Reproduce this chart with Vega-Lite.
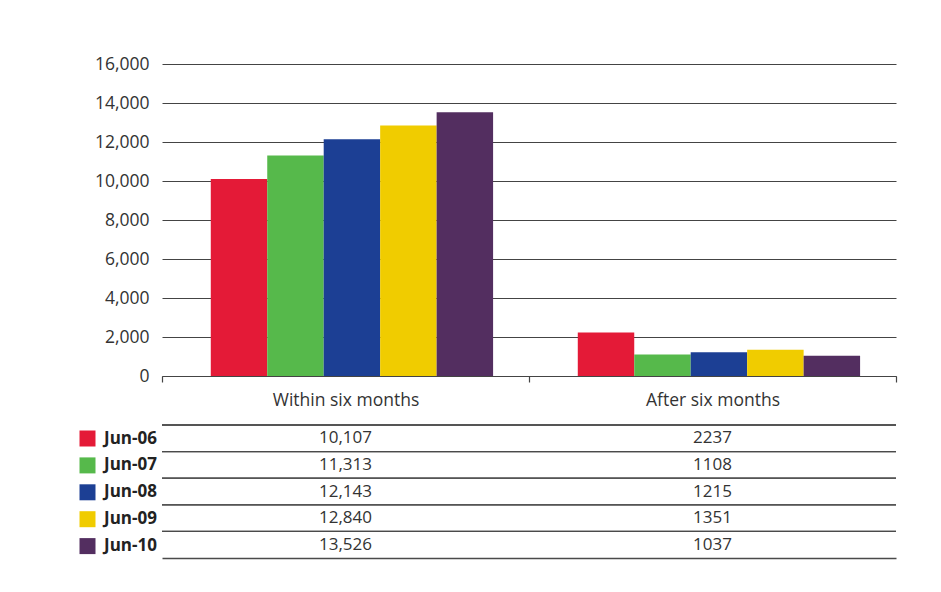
{
  "$schema": "https://vega.github.io/schema/vega-lite/v6.json",
  "padding": {"left": 79, "top": 55, "right": 10, "bottom": 10},
  "background": "white",
  "spacing": 15,
  "config": {
    "view": {"stroke": null},
    "font": "Open Sans",
    "axis": {"labelFont": "Open Sans", "labelColor": "#333333", "labelFontSize": 17.5}
  },
  "data": {
    "values": [
      {"group": "Within six months", "series": "Jun-06", "value": 10107, "label": "10,107"},
      {"group": "Within six months", "series": "Jun-07", "value": 11313, "label": "11,313"},
      {"group": "Within six months", "series": "Jun-08", "value": 12143, "label": "12,143"},
      {"group": "Within six months", "series": "Jun-09", "value": 12840, "label": "12,840"},
      {"group": "Within six months", "series": "Jun-10", "value": 13526, "label": "13,526"},
      {"group": "After six months", "series": "Jun-06", "value": 2237, "label": "2237"},
      {"group": "After six months", "series": "Jun-07", "value": 1108, "label": "1108"},
      {"group": "After six months", "series": "Jun-08", "value": 1215, "label": "1215"},
      {"group": "After six months", "series": "Jun-09", "value": 1351, "label": "1351"},
      {"group": "After six months", "series": "Jun-10", "value": 1037, "label": "1037"}
    ]
  },
  "vconcat": [
    {
      "width": 734,
      "height": 312,
      "mark": {"type": "bar"},
      "encoding": {
        "x": {
          "field": "group", "type": "nominal",
          "sort": ["Within six months", "After six months"],
          "scale": {"paddingInner": 0, "paddingOuter": 0},
          "axis": {"title": null, "labelAngle": 0, "tickBand": "extent", "tickSize": 6, "tickColor": "#444444", "tickWidth": 1.2, "domainColor": "#444444", "domainWidth": 1.2, "labelPadding": 9}
        },
        "xOffset": {
          "field": "series", "type": "nominal",
          "sort": ["Jun-06", "Jun-07", "Jun-08", "Jun-09", "Jun-10"],
          "scale": {"paddingInner": 0, "paddingOuter": 0.75, "align": 0.576}
        },
        "y": {
          "field": "value", "type": "quantitative",
          "scale": {"domain": [0, 16000]},
          "axis": {"title": null, "values": [0, 2000, 4000, 6000, 8000, 10000, 12000, 14000, 16000], "format": ",.0f", "grid": true, "gridColor": "#444444", "gridWidth": 1, "domain": false, "ticks": false, "labelPadding": 13}
        },
        "color": {
          "field": "series", "type": "nominal",
          "scale": {"domain": ["Jun-06", "Jun-07", "Jun-08", "Jun-09", "Jun-10"], "range": ["#e41a37", "#56b94b", "#1c3f94", "#f0cc00", "#532e60"]},
          "legend": null
        }
      }
    },
    {
      "width": 734,
      "height": 133,
      "layer": [
        {
          "mark": {"type": "rule", "color": "#4a4a4a", "strokeWidth": 1.3},
          "encoding": {
            "y": {"field": "series", "type": "nominal", "sort": ["Jun-06", "Jun-07", "Jun-08", "Jun-09", "Jun-10"], "bandPosition": 0, "axis": null}
          }
        },
        {
          "mark": {"type": "text", "fontSize": 17, "color": "#333333", "font": "Open Sans"},
          "encoding": {
            "x": {
              "field": "group", "type": "nominal",
              "sort": ["Within six months", "After six months"],
              "scale": {"paddingInner": 0, "paddingOuter": 0},
              "axis": {"title": null, "labels": false, "ticks": false, "domain": true, "domainColor": "#4a4a4a", "domainWidth": 1.3}
            },
            "y": {"field": "series", "type": "nominal", "sort": ["Jun-06", "Jun-07", "Jun-08", "Jun-09", "Jun-10"], "axis": null},
            "text": {"field": "label"}
          }
        },
        {
          "mark": {"type": "square", "opacity": 0},
          "encoding": {
            "color": {
              "field": "series", "type": "nominal",
              "scale": {"domain": ["Jun-06", "Jun-07", "Jun-08", "Jun-09", "Jun-10"], "range": ["#e41a37", "#56b94b", "#1c3f94", "#f0cc00", "#532e60"]},
              "legend": {
                "title": null, "orient": "none", "legendX": -83, "legendY": 5,
                "symbolType": "square", "symbolSize": 256, "symbolOpacity": 1, "symbolStrokeWidth": 0,
                "labelFont": "Open Sans", "labelFontWeight": "bold", "labelFontSize": 17, "labelColor": "#222222",
                "labelOffset": 8, "rowPadding": 8.9, "padding": 0
              }
            }
          }
        }
      ]
    }
  ],
  "resolve": {"scale": {"color": "independent"}, "legend": {"color": "independent"}}
}
